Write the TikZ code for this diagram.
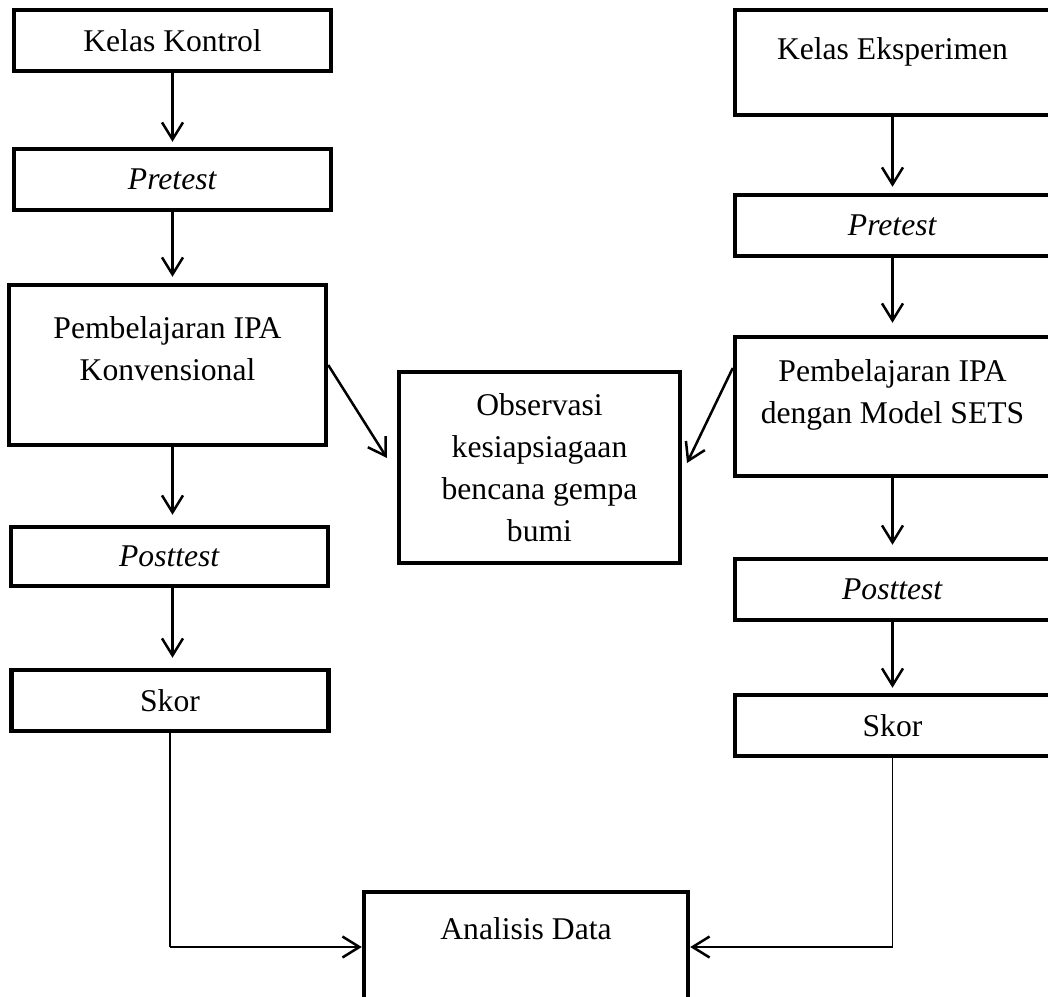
\documentclass[tikz,border=0pt]{standalone}
\usepackage{fontspec}
\setmainfont{Liberation Serif}
\usetikzlibrary{arrows.meta}

\begin{document}
\begin{tikzpicture}[
      x=0.02cm, y=-0.02cm,
      box/.style={rectangle, draw, line width=0.09cm, minimum width=6.34cm, minimum height=1.22cm, align=center, font=\fontsize{18}{24}\selectfont},
      arr/.style={line width=0.05cm, -{Straight Barb[length=0.34cm, width=0.42cm]}},
      link/.style={line width=0.035cm}
    ]
    \useasboundingbox (0,0) rectangle (1048,997);
    \fill[white] (0,0) rectangle (1048,997);
    \clip (0,0) rectangle (1048,997);
    % kelas kontrol
    \node[box] (kontrol) at (172.5,40.5) {Kelas Kontrol};
    \node[box] (preK) at (172.5,179.5) {\textit{Pretest}};
    \node[box, minimum height=3.2cm, text depth=0.66cm] (ajarK) at (167.5,365) {Pembelajaran IPA\\Konvensional};
    \node[box, minimum height=1.18cm] (postK) at (169.5,556.5) {\textit{Posttest}};
    \node[box] (skorK) at (170,700.5) {Skor};
    % kelas eksperimen
    \node[box, minimum width=6.3cm, minimum height=2.1cm, text depth=0.54cm] (eksp) at (892.5,62.5) {Kelas Eksperimen};
    \node[box, minimum width=6.3cm] (preE) at (892.5,225.5) {\textit{Pretest}};
    \node[box, minimum width=6.3cm, minimum height=2.78cm, text depth=0.59cm] (ajarE) at (892.5,406.5) {Pembelajaran IPA\\dengan Model SETS};
    \node[box, minimum width=6.3cm] (postE) at (892.5,589.5) {\textit{Posttest}};
    \node[box, minimum width=6.3cm] (skorE) at (892.5,725.5) {Skor};
    % tengah
    \node[box, minimum width=5.62cm, minimum height=3.82cm] (obs) at (539.5,467.5) {Observasi\\kesiapsiagaan\\bencana gempa\\bumi};
    \node[box, minimum width=6.48cm, minimum height=2.2cm, text depth=0.72cm] (analisis) at (526,947) {Analisis Data};

    \draw[arr, shorten >=0.1cm] (kontrol) -- (preK);
    \draw[arr, shorten >=0.12cm] (preK.south) -- (preK.south |- ajarK.north);
    \draw[arr, shorten >=0.2cm] (ajarK.south -| preK) -- (postK.north -| preK);
    \draw[arr, shorten >=0.2cm] (postK.south -| preK) -- (skorK.north -| preK);

    \draw[arr, shorten >=0.12cm] (eksp) -- (preE);
    \draw[arr, shorten >=0.24cm] (preE) -- (ajarE);
    \draw[arr, shorten >=0.24cm] (ajarE) -- (postE);
    \draw[arr, shorten >=0.1cm] (postE) -- (skorE);

    \coordinate (obsK) at (387,458);
    \coordinate (obsE) at (687,463);
    \draw[arr] (ajarK.east) -- (obsK);
    \draw[arr] ([yshift=0.77cm]ajarE.west) -- (obsE);

    \coordinate (sudutK) at (skorK.south |- analisis.west);
    \coordinate (sudutE) at (skorE.south |- analisis.east);
    \draw[link] (skorK) -- (sudutK);
    \draw[arr] (sudutK) -- (analisis);
    \draw[link] (skorE) -- (sudutE);
    \draw[arr] (sudutE) -- (analisis);
\end{tikzpicture}
\end{document}
